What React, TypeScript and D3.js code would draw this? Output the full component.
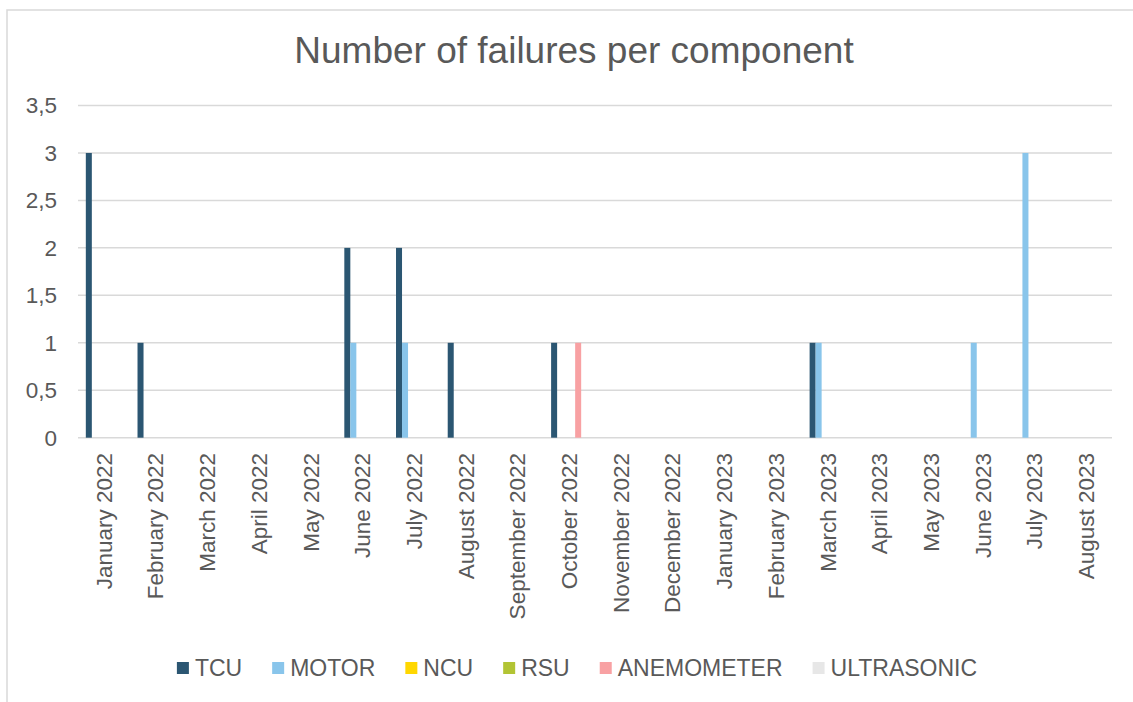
import * as d3 from 'd3';
import { useMemo } from 'react';

const months = [
  'January 2022', 'February 2022', 'March 2022', 'April 2022', 'May 2022', 'June 2022',
  'July 2022', 'August 2022', 'September 2022', 'October 2022', 'November 2022', 'December 2022',
  'January 2023', 'February 2023', 'March 2023', 'April 2023', 'May 2023', 'June 2023',
  'July 2023', 'August 2023',
];

const seriesNames = ['TCU', 'MOTOR', 'NCU', 'RSU', 'ANEMOMETER', 'ULTRASONIC'];
const seriesColors = ['#2b5672', '#89c5eb', '#ffd700', '#b2c434', '#f8a1a3', '#e7e7e7'];

const tcu = [3, 1, 0, 0, 0, 2, 2, 1, 0, 1, 0, 0, 0, 0, 1, 0, 0, 0, 0, 0];
const motor = [0, 0, 0, 0, 0, 1, 1, 0, 0, 0, 0, 0, 0, 0, 1, 0, 0, 1, 3, 0];
const ncu = [0, 0, 0, 0, 0, 0, 0, 0, 0, 0, 0, 0, 0, 0, 0, 0, 0, 0, 0, 0];
const rsu = [0, 0, 0, 0, 0, 0, 0, 0, 0, 0, 0, 0, 0, 0, 0, 0, 0, 0, 0, 0];
const anemometer = [0, 0, 0, 0, 0, 0, 0, 0, 0, 1, 0, 0, 0, 0, 0, 0, 0, 0, 0, 0];
const ultrasonic = [0, 0, 0, 0, 0, 0, 0, 0, 0, 0, 0, 0, 0, 0, 0, 0, 0, 0, 0, 0];

const seriesValues = [tcu, motor, ncu, rsu, anemometer, ultrasonic];
const yTicks = [0, 0.5, 1, 1.5, 2, 2.5, 3, 3.5];

const FONT = '"Liberation Sans", Arial, sans-serif';
const TEXT = '#595959';
const GRID = '#d9d9d9';

const width = 1133;
const height = 702;
const plot = { left: 78, right: 1112, top: 105.5, bottom: 437.7 };
const GAP_RATIO = 2.6; // excel-ish gap width

export default function App() {
  const xScale = useMemo(
    () => d3.scaleBand<string>().domain(months).range([plot.left, plot.right]).padding(0),
    []
  );
  const catW = xScale.bandwidth();
  const gap = (catW * GAP_RATIO) / (seriesNames.length + GAP_RATIO);

  const x1 = useMemo(
    () => d3.scaleBand<string>().domain(seriesNames).range([gap / 2, catW - gap / 2]).padding(0),
    [catW, gap]
  );

  const yScale = useMemo(
    () => d3.scaleLinear().domain([0, 3.5]).range([plot.bottom, plot.top]),
    []
  );

  // legend layout, measured text widths
  const legend = useMemo(() => {
    const ctx = document.createElement('canvas').getContext('2d');
    const size = 23;
    const marker = 12;
    const pad = 6;
    const spacing = 30;
    let widths = seriesNames.map((s) => s.length * 13);
    if (ctx) {
      ctx.font = `${size}px "Liberation Sans", Arial, sans-serif`;
      widths = seriesNames.map((s) => ctx.measureText(s).width);
    }
    const total = d3.sum(widths) + seriesNames.length * (marker + pad) + (seriesNames.length - 1) * spacing;
    let x = 577 - total / 2;
    return seriesNames.map((s, i) => {
      const item = { name: s, color: seriesColors[i], x, textX: x + marker + pad };
      x += marker + pad + widths[i] + spacing;
      return item;
    });
  }, []);

  return (
    <svg
      width={width}
      height={height}
      style={{ position: 'absolute', left: 0, top: 0, background: '#fff' }}
      fontFamily={FONT}
    >
      <rect x={7} y={10} width={1200} height={800} fill="#fff" stroke={GRID} strokeWidth={1.5} />

      <text x={574} y={63} textAnchor="middle" fontSize={37} fill={TEXT}>
        Number of failures per component
      </text>

      {/* gridlines + y labels */}
      {yTicks.map((t) => (
        <g key={t}>
          <line x1={plot.left} x2={plot.right} y1={yScale(t)} y2={yScale(t)} stroke={GRID} strokeWidth={1.5} />
          <text x={57} y={yScale(t)} dy="0.35em" textAnchor="end" fontSize={22.5} fill={TEXT}>
            {String(t).replace('.', ',')}
          </text>
        </g>
      ))}

      {/* bars */}
      {seriesValues.map((vals, si) => (
        <g key={seriesNames[si]} fill={seriesColors[si]}>
          {vals.map((v, mi) =>
            v > 0 ? (
              <rect
                key={mi}
                x={(xScale(months[mi]) ?? 0) + (x1(seriesNames[si]) ?? 0)}
                y={yScale(v)}
                width={x1.bandwidth()}
                height={yScale(0) - yScale(v)}
              />
            ) : null
          )}
        </g>
      ))}

      {/* x labels */}
      {months.map((m) => {
        const cx = (xScale(m) ?? 0) + catW / 2;
        return (
          <text
            key={m}
            transform={`translate(${cx},453) rotate(-90)`}
            dy="0.35em"
            textAnchor="end"
            fontSize={22.5}
            fill={TEXT}
          >
            {m}
          </text>
        );
      })}

      {/* legend */}
      {legend.map((l) => (
        <g key={l.name}>
          <rect x={l.x} y={662} width={12} height={12} fill={l.color} />
          <text x={l.textX} y={668} dy="0.35em" fontSize={23} fill={TEXT}>
            {l.name}
          </text>
        </g>
      ))}
    </svg>
  );
}
